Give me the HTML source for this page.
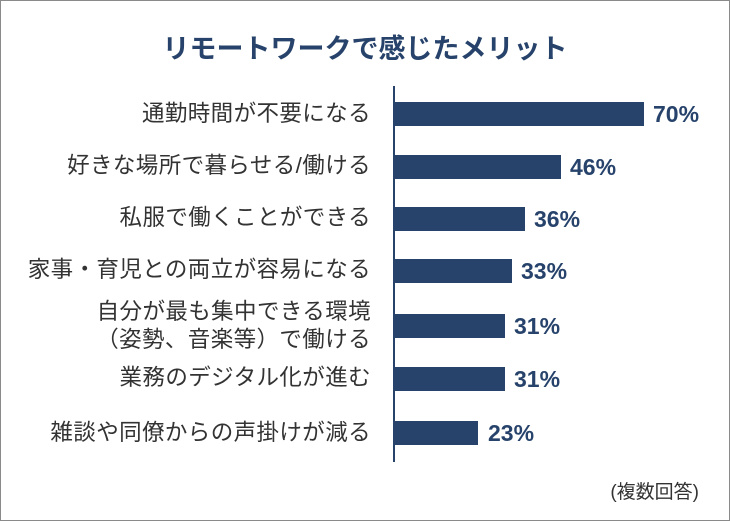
<!DOCTYPE html>
<html><head><meta charset="utf-8"><style>
body{margin:0;background:#fff;}
#c{position:relative;width:728px;height:519px;border:1px solid #8a8a8a;background:#fff;font-family:"Liberation Sans","Noto Sans CJK JP",sans-serif;overflow:hidden;}
.t{position:absolute;left:0;width:728px;top:26px;text-align:center;font-size:27px;font-weight:bold;color:#27436b;}
.ax{position:absolute;left:392px;top:85px;width:1.5px;height:376px;background:#27436b;}
.b{position:absolute;left:393px;height:24px;background:#27436b;}
.v{position:absolute;font-size:23px;font-weight:bold;color:#27436b;line-height:24px;}
.l{position:absolute;right:358px;font-size:22.5px;color:#333;text-align:right;line-height:24px;white-space:nowrap;letter-spacing:0.4px;}
.n{position:absolute;right:30px;top:476px;font-size:19px;color:#333;}
</style></head><body><div id="c">
<div class="t">リモートワークで感じたメリット</div>
<div class="ax"></div>
<div class="b" style="top:101px;width:250px"></div><div class="v" style="top:101px;left:652px">70%</div><div class="l" style="top:101px">通勤時間が不要になる</div>
<div class="b" style="top:154px;width:167px"></div><div class="v" style="top:154px;left:569px">46%</div><div class="l" style="top:153px">好きな場所で暮らせる/働ける</div>
<div class="b" style="top:206px;width:131px"></div><div class="v" style="top:206px;left:533px">36%</div><div class="l" style="top:205px">私服で働くことができる</div>
<div class="b" style="top:258px;width:118px"></div><div class="v" style="top:258px;left:520px">33%</div><div class="l" style="top:257px">家事・育児との両立が容易になる</div>
<div class="b" style="top:313px;width:111px"></div><div class="v" style="top:313px;left:513px">31%</div><div class="l" style="top:297px;line-height:28px">自分が最も集中できる環境<br>（姿勢、音楽等）で働ける</div>
<div class="b" style="top:366px;width:111px"></div><div class="v" style="top:366px;left:513px">31%</div><div class="l" style="top:365px">業務のデジタル化が進む</div>
<div class="b" style="top:420px;width:84px"></div><div class="v" style="top:420px;left:487px">23%</div><div class="l" style="top:420px">雑談や同僚からの声掛けが減る</div>
<div class="n">(複数回答)</div>
</div></body></html>
